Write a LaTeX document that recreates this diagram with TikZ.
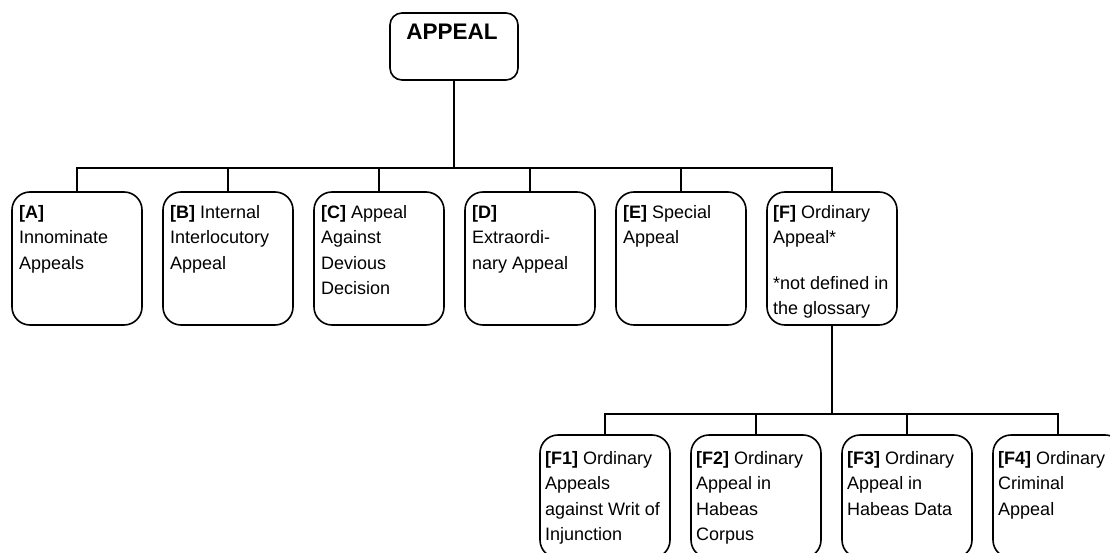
\documentclass[tikz,border=0pt]{standalone}
\usepackage{fontspec}
\setmainfont{Liberation Sans}
\usetikzlibrary{calc,positioning}

\begin{document}
\begin{tikzpicture}[
      x=1pt, y=-1pt,
      node distance=21pt,
      card/.style={rectangle,rounded corners=18pt,draw,line width=1.6pt,outer sep=0pt,minimum width=130pt,minimum height=133pt},
      subcard/.style={card,minimum height=123pt},
      lbl/.style={anchor=north west,inner sep=0pt,align=left,font=\fontsize{18}{25.5}\selectfont},
      link/.style={line width=1.8pt}
    ]
    \useasboundingbox (0,0) rectangle (1110,553);
    \clip (0,0) rectangle (1110,553);

    % top
    \node[card,rounded corners=12pt,minimum width=128pt,minimum height=67pt] (root) at (454,46.5) {};
    \node[anchor=base,inner sep=0pt,font=\bfseries\fontsize{22.5}{27}\selectfont] (rootlbl) at ($(root.north)+(-2,27)$) {APPEAL};

    % first level
    \node[card] (A) at (77,258.5) {};
    \node[card,right=of A] (B) {};
    \node[card,right=of B] (C) {};
    \node[card,right=of C] (D) {};
    \node[card,right=of D] (E) {};
    \node[card,right=of E] (F) {};

    \node[lbl] (Atxt) at ($(A.north west)+(7,8)$) {\strut\textbf{[A]}\\Innominate\\Appeals};
    \node[lbl] (Btxt) at ($(B.north west)+(7,8)$) {\strut\textbf{[B]} Internal\\Interlocutory\\Appeal};
    \node[lbl] (Ctxt) at ($(C.north west)+(7,8)$) {\strut\textbf{[C]} Appeal\\Against\\Devious\\Decision};
    \node[lbl] (Dtxt) at ($(D.north west)+(7,8)$) {\strut\textbf{[D]}\\Extraordi-\\nary Appeal};
    \node[lbl] (Etxt) at ($(E.north west)+(7,8)$) {\strut\textbf{[E]} Special\\Appeal};
    \node[lbl] (Ftxt) at ($(F.north west)+(6,8)$) {\strut\textbf{[F]} Ordinary\\Appeal*\\[20pt]*not defined in\\the glossary};

    % second level
    \node[subcard] (F1) at (605,496.5) {};
    \node[subcard,right=of F1] (F2) {};
    \node[subcard,right=of F2] (F3) {};
    \node[subcard,right=of F3] (F4) {};

    \node[lbl] (F1txt) at ($(F1.north west)+(5,11)$) {\strut\textbf{[F1]} Ordinary\\Appeals\\against Writ of\\Injunction};
    \node[lbl] (F2txt) at ($(F2.north west)+(5,11)$) {\strut\textbf{[F2]} Ordinary\\Appeal in\\Habeas\\Corpus};
    \node[lbl] (F3txt) at ($(F3.north west)+(5,11)$) {\strut\textbf{[F3]} Ordinary\\Appeal in\\Habeas Data};
    \node[lbl] (F4txt) at ($(F4.north west)+(5,11)$) {\strut\textbf{[F4]} Ordinary\\Criminal\\Appeal};

    % connectors
    \coordinate (bar) at (root.south |- 0,168);
    \draw[link] (root.south) -- (bar);
    \foreach \n in {A,B,C,D,E,F}
      \draw[link] (bar) -| (\n.north);

    \coordinate (subbar) at (F.south |- 0,414);
    \draw[link] (F.south) -- (subbar);
    \foreach \n in {F1,F2,F3,F4}
      \draw[link] (subbar) -| (\n.north);
  \end{tikzpicture}
\end{document}
